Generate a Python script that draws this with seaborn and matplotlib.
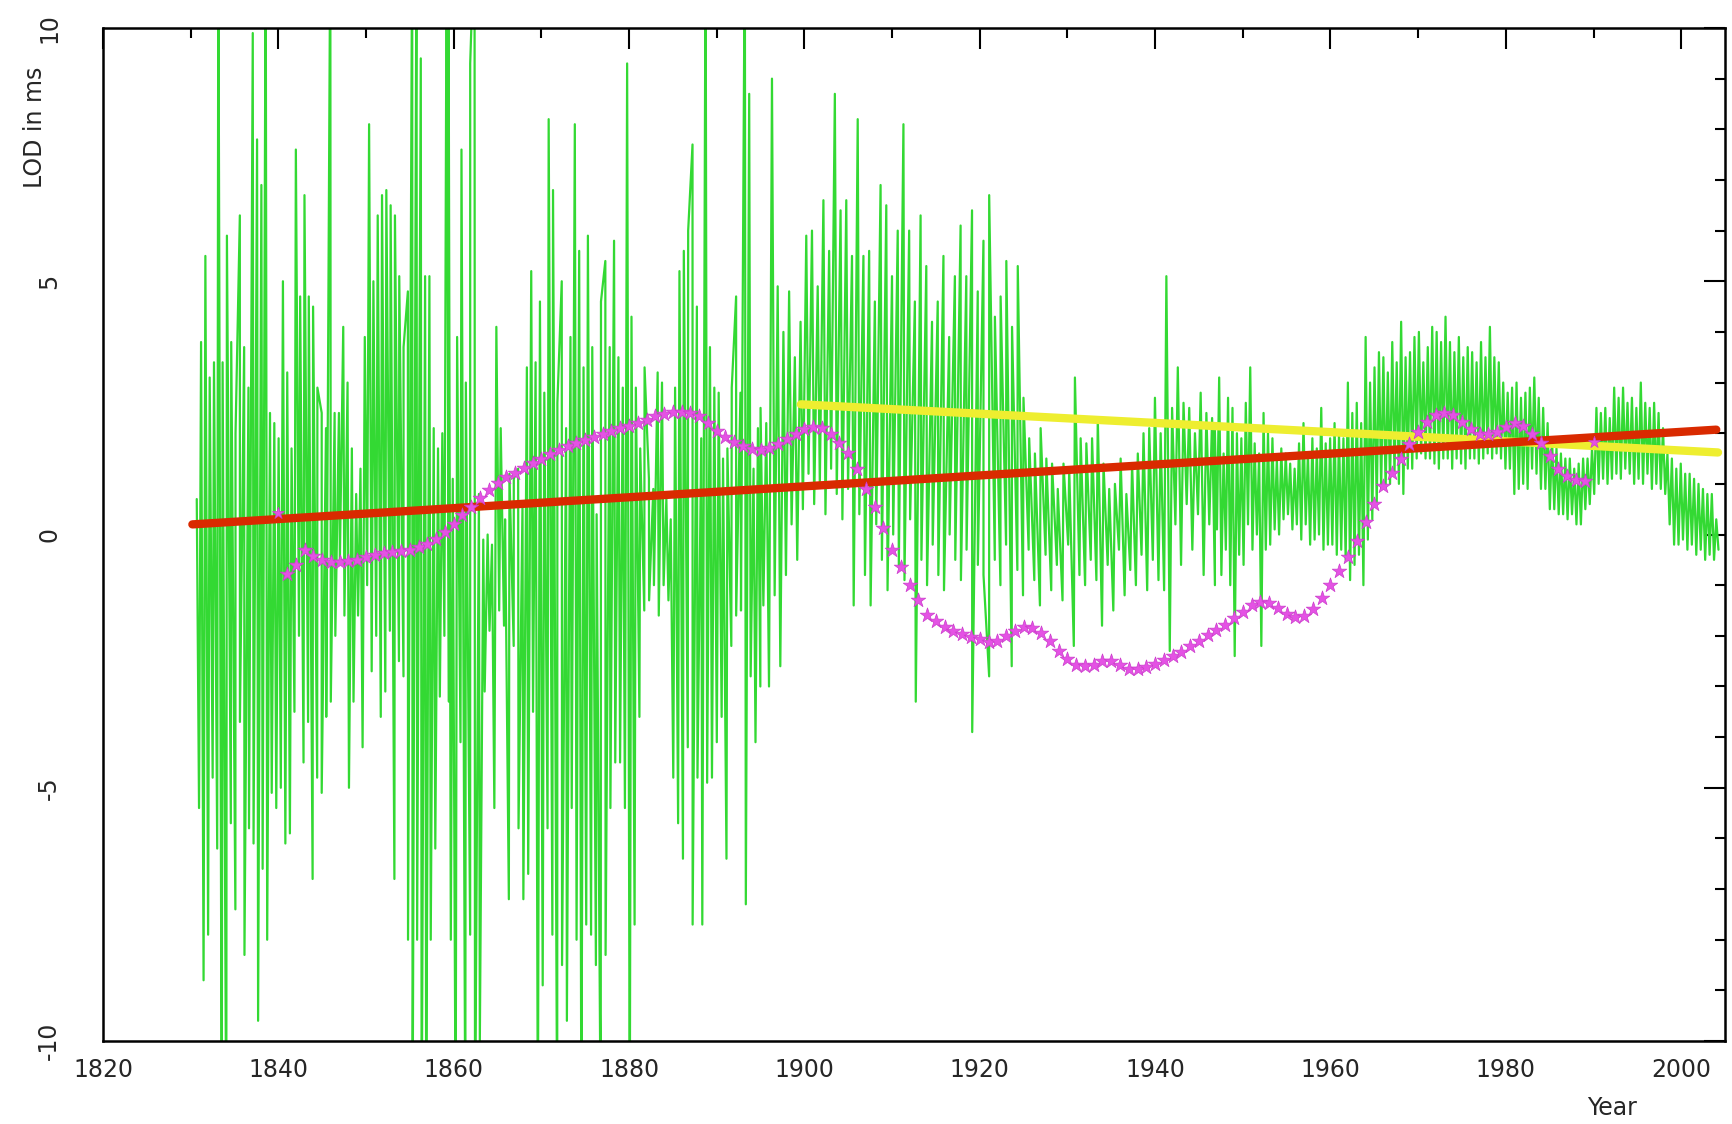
import numpy as np
import pandas as pd
import matplotlib
matplotlib.use("Agg")
import matplotlib.pyplot as plt
from matplotlib import font_manager
from matplotlib.ticker import MultipleLocator
import seaborn as sns

lod_1830_peaks = [0.7, 3.8, 5.5, 3.1, 3.4, 12, 3.4, 5.9, 3.8, 2.0, 6.3, 3.7, 2.9, 9.9, 7.8,
                  6.9, 12, 2.4, 2.2, 1.9, 5.0, 3.2, 1.7, 7.6, 4.7, 6.7, 4.7, 4.5, 2.9, 2.4,
                  2.1, 12, 2.4, 2.4, 4.1, 3.0, 1.7, 0.8, 1.3, 3.9, 8.1, 5.0, 6.3, 6.7, 6.8,
                  6.5, 6.3, 5.1, 3.7, 4.8, 12, 12, 9.4, 5.1, 5.1, 2.1, 1.7, 2.0, 12]
lod_1830_troughs = [-5.4, -8.8, -7.9, -4.8, -6.2, -12, -12, -5.7, -7.4, -3.7, -8.3, -5.8,
                    -6.1, -9.6, -6.6, -8.0, -5.1, -5.4, -5.0, -6.1, -5.9, -3.5, -2.0, -4.5,
                    -3.7, -6.8, -4.8, -5.1, -3.6, -3.3, -2.0, -0.5, -1.6, -5.0, -3.3, -1.6,
                    -4.2, -1.0, -2.7, -2.0, -3.6, -3.1, -1.9, -6.8, -2.5, -2.8, -8.0, -12,
                    -8.0, -12, -12, -8.0, -6.2, -3.2, -2.0, -3.3]
lod_1860_peaks = [12, 1.1, 3.9, 7.6, 3.0, 9.3, 12, 0.8, -0.1, 0.0, -0.2, 4.1, 2.1, 0.3, 1.2,
                  1.1, 1.3, 0.6, 3.3, 5.2, 3.4, 4.6, 2.8, 8.2, 6.8, 2.6, 5.0, 2.1, 3.9, 8.1,
                  5.6, 3.3, 5.9, 3.7, 0.4, 4.6, 5.4, 3.7, 5.8, 3.5, 2.9, 9.3, 4.3, 2.9, 1.7,
                  3.3, 1.1, 0.9, 3.2, 3.0, 0.7, 0.3, 2.9, 5.2, 5.6, 6.0, 7.7, 4.5, 1.9, 12,
                  3.7, 2.9, 2.8, 1.5, 1.7, 2.9, 4.7, 2.8, 12, 8.7, 1.3, 2.1]
lod_1860_troughs = [-8.0, -12, -4.1, -12, -7.9, -12, -10, -3.1, -1.9, -5.4, -1.5, -1.8, -7.2,
                    -2.2, -5.8, -7.2, -6.7, -3.5, -12, -8.9, -5.8, -7.9, -12, -8.5, -9.6,
                    -5.4, -8.0, -12, -7.7, -7.9, -8.5, -12, -8.3, -5.4, -4.5, -4.5, -5.4,
                    -12, -7.7, -3.6, -1.5, -1.3, -1.0, -1.6, -1.0, -1.3, -4.8, -5.7, -6.4,
                    -4.2, -7.7, -4.8, -7.7, -4.9, -4.8, -4.1, -3.6, -6.4, -2.2, -1.6, -1.5,
                    -7.3, -2.8, -4.1, -3.0]
lod_1895_peaks = [2.5, 2.2, 9.0, 4.9, 4.0, 4.8, 3.5, 4.2, 5.9, 6.0, 4.9, 6.6, 5.6, 8.7, 6.4,
                  6.6, 5.5, 8.2, 5.5, 5.6, 4.6, 6.9, 6.5, 5.1, 6.0, 8.1, 6.0, 4.6, 6.3, 5.3,
                  4.2, 4.6, 5.5, 3.9, 5.1, 6.1, 5.1, 6.4, 4.8, 5.8, 6.7, 4.3, 4.7, 5.4, 4.1,
                  5.3, 2.7, 1.9, 1.6, 2.1, 1.5, 1.4, 0.9, 1.4, 1.3, 3.1, 1.9, 1.8, 1.9, 2.3,
                  1.4, 0.9, 1.0, 1.5, 0.8, 1.4, 1.6, 2.0, 2.1, 2.7, 2.0, 5.1, 2.5, 3.3, 2.6,
                  2.5, 2.0, 2.8, 2.4, 2.3]
lod_1895_troughs = [-1.4, -3.0, -1.2, -2.6, -0.8, 0.2, -0.5,
                    0.5, 1.2, 0.6, 1.0, 0.4, 1.3, 0.8, 0.3, 0.9,
                    -1.4, 0.4, -0.8, -1.4, 0.2, -0.5, -1.1, 0.0, -0.6, -0.9, 0.3,
                    -3.3, -0.5, -1.0, -0.2, -0.8, -1.1, 0.0, -0.5, -0.9, -0.3, -3.9, -0.6,
                    -0.8, -2.8, -0.5, -1.0, -0.2, -2.6, -0.7, -1.2, -0.3, -0.9, -1.4, -0.4,
                    -1.1, -0.6, -1.3, -0.2,
                    -2.2, -0.8, -1.0, -0.5, -0.9, -1.8, -0.6, -1.5, -0.3, -1.2, -0.7, -1.0,
                    -0.4, -1.1, -0.5, -0.9,
                    -1.1, -2.3, 0.2, -0.6, 0.6, -0.3, 0.4, -0.8, 0.2, -1.0]
lod_1947_peaks = [2.2, 3.1, 1.6, 2.7, 2.5, 2.0, 1.9, 2.6, 3.3, 1.8, 1.6, 2.4, 2.0, 1.9,
                  1.5, 1.7, 1.6, 1.4, 1.3, 1.8, 2.2, 1.6, 1.9, 1.7, 2.5, 1.8, 1.9, 2.2,
                  2.0, 1.9, 3.0, 2.4, 2.6, 2.2, 3.9, 3.0, 3.3, 3.6, 3.5, 3.2, 3.8, 3.4,
                  4.2, 3.5, 3.6, 3.9, 4.0, 3.4, 3.7, 4.1, 4.0, 3.8, 4.3, 3.8, 3.6, 3.9,
                  3.5, 3.7, 3.6, 3.4, 3.8, 3.5, 4.1, 3.5, 3.4, 3.0, 2.8, 2.9, 3.0, 2.7,
                  2.8, 2.9, 3.1, 2.7, 2.5, 2.2, 1.9, 1.7, 1.6, 1.5, 1.5, 1.3, 1.4, 1.5,
                  1.5, 1.7, 2.5, 2.4, 2.5, 2.3, 2.9, 2.7, 2.9, 2.6, 2.7, 2.5, 3.0, 2.6,
                  2.5, 2.6, 2.4, 2.1, 1.6, 1.5, 1.3, 1.4, 1.2, 1.2, 1.1, 1.0, 0.9, 0.8,
                  0.8, 0.3]
lod_1947_troughs = [0.1, -0.8, -0.3, -1.0, -2.4, -0.4, -0.6, 0.2, -0.3, 0.0, -2.2, -0.3,
                    -0.2, 0.1, 0.0, 0.3, 0.4, 0.1, 0.2, -0.1, 0.2, -0.2, -0.1, 0.0, -0.3,
                    -0.2, -0.2, -0.4, -0.3, -0.5, -0.9, -0.6, -0.4, -1.0, -0.1, 0.3, 0.6,
                    0.9, 0.9, 1.0, 1.2, 1.0, 0.8, 1.3, 1.3, 1.5, 1.6, 1.5, 1.5, 1.4, 1.3,
                    1.5, 1.5, 1.3, 1.5, 1.4, 1.3, 1.5, 1.5, 1.4, 1.5, 1.6, 1.5, 1.6, 1.5,
                    1.3, 1.3, 0.8, 0.9, 1.0, 0.9, 1.3, 1.2, 0.9, 0.9, 0.5, 0.5, 0.4, 0.4,
                    0.3, 0.4, 0.2, 0.2, 0.5, 0.6, 0.8, 1.0, 1.1, 1.0, 1.1, 1.2, 1.1, 1.3,
                    1.2, 1.0, 1.1, 1.0, 1.2, 0.9, 1.0, 0.9, 0.8, 0.2, -0.2, -0.2, -0.1,
                    -0.3, -0.2, -0.4, -0.3, -0.5, -0.4, -0.5, -0.3]
lod_spans = [(1830.7, 1859.2), (1859.4, 1894.7), (1895.0, 1946.5), (1946.8, 2004.0)]

# --- magenta smoothed curve, one value per year 1841-1989 ---
smooth_years = list(range(1841, 1990))
smooth_lod = [-0.77, -0.6, -0.3, -0.42, -0.5, -0.55, -0.55, -0.52, -0.5, -0.45,
              -0.4, -0.36, -0.34, -0.32, -0.3, -0.25, -0.18, -0.08, 0.05, 0.2,
              0.38, 0.55, 0.72, 0.88, 1.02, 1.13, 1.22, 1.32, 1.42, 1.5,
              1.58, 1.66, 1.74, 1.8, 1.86, 1.92, 1.98, 2.04, 2.1, 2.15,
              2.21, 2.27, 2.33, 2.37, 2.41, 2.42, 2.4, 2.33, 2.2, 2.05,
              1.93, 1.83, 1.75, 1.69, 1.67, 1.7, 1.78, 1.88, 1.99, 2.08,
              2.13, 2.1, 1.98, 1.8, 1.6, 1.3, 0.9, 0.55, 0.13, -0.3,
              -0.65, -1.0, -1.3, -1.58, -1.7, -1.82, -1.9, -1.97, -2.02, -2.07,
              -2.12, -2.1, -2.0, -1.9, -1.83, -1.85, -1.94, -2.1, -2.3, -2.45,
              -2.57, -2.6, -2.57, -2.5, -2.5, -2.58, -2.65, -2.65, -2.61, -2.55,
              -2.47, -2.4, -2.32, -2.2, -2.1, -1.98, -1.88, -1.78, -1.65, -1.52,
              -1.4, -1.33, -1.36, -1.46, -1.56, -1.62, -1.6, -1.48, -1.25, -1.0,
              -0.72, -0.45, -0.13, 0.25, 0.61, 0.95, 1.22, 1.5, 1.78, 2.02,
              2.22, 2.36, 2.4, 2.36, 2.22, 2.08, 1.99, 1.98, 2.03, 2.13,
              2.2, 2.15, 1.98, 1.8, 1.55, 1.3, 1.15, 1.08, 1.05]
end_years = [1840, 1990]
end_lod = [0.42, 1.83]

# --- straight fits ---
red_years = [1830.2, 2004.0]
red_lod = [0.2, 2.07]
yellow_years = [1899.6, 2004.2]
yellow_lod = [2.57, 1.62]


def zigzag(peaks, troughs, start, end):
    tp = np.linspace(start, end, len(peaks))
    half = (end - start) / (len(troughs) - 1) / 2
    tt = np.linspace(start, end, len(troughs)) + half
    t = np.concatenate([tp, tt])
    v = np.concatenate([peaks, troughs])
    order = np.argsort(t, kind="stable")
    return t[order], v[order]


parts = [(lod_1830_peaks, lod_1830_troughs), (lod_1860_peaks, lod_1860_troughs),
         (lod_1895_peaks, lod_1895_troughs), (lod_1947_peaks, lod_1947_troughs)]
frames = []
for (pk, tr), (a, b) in zip(parts, lod_spans):
    t, v = zigzag(pk, tr, a, b)
    frames.append(pd.DataFrame({"year": t, "lod": v}))
green = pd.concat(frames, ignore_index=True)

sns.set_theme(style="white")
names = {f.name for f in font_manager.fontManager.ttflist}
if "Liberation Sans Narrow" in names:
    fam, fs = "Liberation Sans Narrow", 22
else:
    fam, fs = "DejaVu Sans", 17
plt.rcParams["font.family"] = [fam, "DejaVu Sans"]
plt.rcParams["axes.unicode_minus"] = False

fig = plt.figure(figsize=(17.33, 11.24), dpi=100)
ax = fig.add_axes([0.0594, 0.0738, 0.9360, 0.9013])

sns.lineplot(data=green, x="year", y="lod", sort=False, estimator=None,
             color="#33d933", lw=1.6, ax=ax, zorder=1)
sns.lineplot(x=yellow_years, y=yellow_lod, color="#eeee30", lw=6.0, ax=ax, zorder=2)
sns.lineplot(x=red_years, y=red_lod, color="#d92a00", lw=6.0, ax=ax, zorder=3)
sns.scatterplot(x=smooth_years, y=smooth_lod, marker="*", s=120, color="#e452e4",
                edgecolor="#cc3ccc", linewidth=0.5, ax=ax, zorder=4)
sns.scatterplot(x=end_years, y=end_lod, marker="*", s=80, color="#e452e4",
                edgecolor="#cc3ccc", linewidth=0.5, ax=ax, zorder=4)

ax.set_xlim(1820, 2005)
ax.set_ylim(-10, 10)
ax.xaxis.set_major_locator(MultipleLocator(20))
ax.xaxis.set_minor_locator(MultipleLocator(10))
ax.yaxis.set_major_locator(MultipleLocator(5))
ax.yaxis.set_minor_locator(MultipleLocator(1))
ax.tick_params(which="both", direction="in", top=True, right=True, color="black",
               width=1.5, labelsize=fs)
ax.tick_params(which="major", length=15)
ax.tick_params(which="minor", length=7)
ax.tick_params(axis="x", pad=12)
ax.tick_params(axis="y", pad=30, labelrotation=90)
plt.setp(ax.get_yticklabels(), va="center")
for s in ax.spines.values():
    s.set_color("black")
    s.set_linewidth(1.8)
ax.set_xlabel("")
ax.set_ylabel("")

fig.text(35 / 1733, 1 - 127 / 1124, "LOD in ms", rotation=90, ha="center",
         va="center", fontsize=fs)
fig.text(1612 / 1733, 1 - 1108 / 1124, "Year", ha="center", va="center", fontsize=fs)

fig.savefig("out.png", dpi=100, facecolor="white")
